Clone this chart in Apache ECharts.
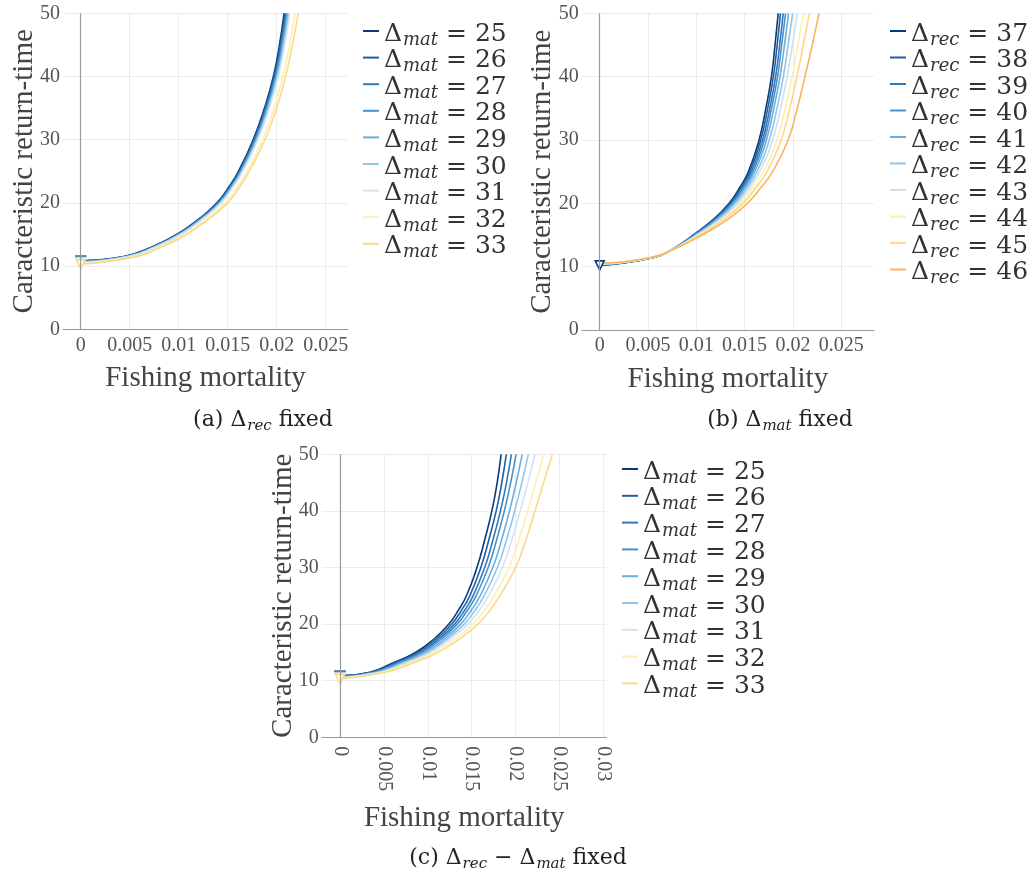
<!DOCTYPE html>
<html><head><meta charset="utf-8">
<script src="https://cdn.jsdelivr.net/npm/echarts@6/dist/echarts.min.js"></script>
<style>html,body{margin:0;padding:0;background:#fff}#c{width:1036px;height:878px}</style>
</head><body><div id="c"></div>
<script>
// Shared y-levels (return-time) at which each curve's fishing mortality was read
const LEVELS = [11.5, 13, 15, 17.5, 20, 22.5, 25, 30, 35, 40, 45, 50];
const X_TICKS_AB = [0, 0.005, 0.01, 0.015, 0.02, 0.025];
const X_TICKS_C = [0, 0.005, 0.01, 0.015, 0.02, 0.025, 0.03];

// Panel (a): Δrec fixed, Δmat varies
const A_LABELS = [25, 26, 27, 28, 29, 30, 31, 32, 33];
const A_START = [10.85, 10.8, 10.75, 10.7, 10.65, 10.6, 10.55, 10.4, 10.3];
const A_F = [
  [0.0044, 0.0072, 0.0098, 0.0121, 0.0139, 0.0151, 0.0161, 0.0176, 0.01875, 0.01966, 0.02028, 0.02075],
  [0.00448, 0.00727, 0.00987, 0.01217, 0.01397, 0.01517, 0.01617, 0.01768, 0.01883, 0.01974, 0.02037, 0.02084],
  [0.00457, 0.00733, 0.00993, 0.01223, 0.01404, 0.01524, 0.01624, 0.01776, 0.01891, 0.01982, 0.02045, 0.02094],
  [0.00465, 0.0074, 0.01, 0.0123, 0.01412, 0.01532, 0.01632, 0.01783, 0.01899, 0.0199, 0.02054, 0.02103],
  [0.00474, 0.00746, 0.01006, 0.01236, 0.01419, 0.01539, 0.01639, 0.01791, 0.01908, 0.01998, 0.02062, 0.02113],
  [0.00483, 0.00753, 0.01013, 0.01243, 0.01426, 0.01546, 0.01646, 0.018, 0.01916, 0.02007, 0.02072, 0.02123],
  [0.00492, 0.0076, 0.0102, 0.0125, 0.01434, 0.01554, 0.01654, 0.01808, 0.01925, 0.02016, 0.02081, 0.02133],
  [0.00541, 0.00798, 0.01058, 0.01288, 0.01476, 0.01596, 0.01696, 0.01854, 0.01973, 0.02063, 0.02131, 0.02188],
  [0.0057, 0.0082, 0.0108, 0.0131, 0.0150, 0.0162, 0.0172, 0.0188, 0.0200, 0.0209, 0.0216, 0.0222]
];

// Panel (b): Δmat fixed, Δrec varies
const B_LABELS = [37, 38, 39, 40, 41, 42, 43, 44, 45, 46];
const B_START = [10.2, 10.23, 10.27, 10.3, 10.33, 10.37, 10.4, 10.43, 10.47, 10.5];
const B_F = [
  [0.0057, 0.0078, 0.0097, 0.0118, 0.0134, 0.0145, 0.0154, 0.0165, 0.0172, 0.01778, 0.01815, 0.01848],
  [0.00568, 0.00781, 0.00975, 0.01189, 0.01351, 0.01463, 0.01554, 0.01667, 0.01739, 0.01798, 0.01837, 0.01872],
  [0.00566, 0.00782, 0.00981, 0.01199, 0.01364, 0.01477, 0.01571, 0.01687, 0.0176, 0.01821, 0.01863, 0.019],
  [0.00565, 0.00784, 0.00986, 0.01207, 0.01374, 0.0149, 0.01585, 0.01704, 0.01779, 0.01841, 0.01884, 0.01924],
  [0.00562, 0.00785, 0.00993, 0.01218, 0.01388, 0.01506, 0.01604, 0.01726, 0.01803, 0.01866, 0.01913, 0.01955],
  [0.00559, 0.00787, 0.01002, 0.01233, 0.01407, 0.01528, 0.01629, 0.01756, 0.01835, 0.01901, 0.01951, 0.01997],
  [0.00556, 0.00789, 0.01012, 0.0125, 0.01429, 0.01553, 0.01657, 0.0179, 0.01872, 0.0194, 0.01995, 0.02045],
  [0.00552, 0.00792, 0.01025, 0.01272, 0.01457, 0.01585, 0.01694, 0.01835, 0.0192, 0.01991, 0.02052, 0.02108],
  [0.00547, 0.00795, 0.01039, 0.01294, 0.01485, 0.01618, 0.01731, 0.01879, 0.01968, 0.02042, 0.02108, 0.0217],
  [0.0054, 0.0080, 0.0106, 0.0133, 0.0153, 0.0167, 0.0179, 0.0195, 0.02045, 0.02125, 0.0220, 0.0227]
];

// Panel (c): Δrec − Δmat fixed
const C_LABELS = [25, 26, 27, 28, 29, 30, 31, 32, 33];
const C_START = [10.85, 10.8, 10.75, 10.7, 10.6, 10.55, 10.5, 10.4, 10.3];
const C_F = [
  [0.0034, 0.0058, 0.0086, 0.0108, 0.0124, 0.0135, 0.0144, 0.0156, 0.0165, 0.0173, 0.0179, 0.01835],
  [0.00358, 0.00603, 0.00886, 0.01109, 0.01273, 0.01386, 0.01478, 0.01604, 0.01697, 0.01779, 0.01843, 0.01894],
  [0.00376, 0.00626, 0.00912, 0.01138, 0.01306, 0.01422, 0.01516, 0.01648, 0.01744, 0.01828, 0.01896, 0.01952],
  [0.00392, 0.00647, 0.00935, 0.01164, 0.01336, 0.01454, 0.0155, 0.01688, 0.01786, 0.01872, 0.01944, 0.02005],
  [0.00414, 0.00674, 0.00967, 0.01199, 0.01375, 0.01498, 0.01596, 0.0174, 0.01843, 0.01931, 0.02007, 0.02075],
  [0.00435, 0.00702, 0.00998, 0.01234, 0.01415, 0.01541, 0.01641, 0.01793, 0.01899, 0.0199, 0.02071, 0.02145],
  [0.00459, 0.00732, 0.01032, 0.01271, 0.01458, 0.01588, 0.01691, 0.0185, 0.0196, 0.02053, 0.0214, 0.02221],
  [0.00489, 0.00771, 0.01076, 0.01321, 0.01514, 0.01649, 0.01755, 0.01925, 0.0204, 0.02137, 0.0223, 0.02321],
  [0.0052, 0.0081, 0.0112, 0.0137, 0.0157, 0.0171, 0.0182, 0.0200, 0.0212, 0.0222, 0.0232, 0.0242]
];

const COLORS_9 = ['#0b3a78', '#1f5fa3', '#2f78bb', '#4b91c9', '#6aaedd', '#93c5e6', '#d2e3f2', '#fdefb2', '#fdd888'];
const COLORS_10 = ['#0b3a78', '#1f5fa3', '#2f78bb', '#4b91c9', '#6aaedd', '#93c5e6', '#cde0f1', '#fdefb2', '#fdd888', '#fbb45c'];

const SERIF = 'Liberation Serif';
const MATH = 'DejaVu Serif';

function makeSeries(prefix, labels, starts, Fs, colors, gi, markAll) {
  return labels.map((lab, i) => {
    const s = {
      name: prefix + lab,
      type: 'line',
      xAxisIndex: gi, yAxisIndex: gi,
      smooth: 0.5,
      symbol: 'triangle', symbolSize: 0, showSymbol: true, showAllSymbol: true,
      lineStyle: {color: colors[i], width: 1.6},
      itemStyle: {color: colors[i]},
      emphasis: {disabled: true},
      silent: true,
      animation: false,
      clip: true,
      data: [{value: [0, starts[i]], symbolSize: (markAll || i === 0) ? 9 : 0, symbolRotate: 180,
              itemStyle: {color: '#fff', borderColor: colors[i], borderWidth: 1.6}}]
        .concat(LEVELS.map((y, j) => [Fs[i][j], y]))
    };
    if (i === 0) {
      s.markLine = {silent: true, symbol: 'none', animation: false, label: {show: false},
        lineStyle: {color: '#9a9a9a', width: 1.2, type: 'solid'}, data: [{xAxis: 0}]};
    }
    return s;
  });
}

function fmt(v) { return v === 0 ? '0' : String(parseFloat(Number(v).toFixed(4))); }

function xAxis(gi, min, max, ticks, rotate, nameGap) {
  return {
    type: 'value', gridIndex: gi, min: min, max: max,
    name: 'Fishing mortality', nameLocation: 'middle', nameGap: nameGap, nameMoveOverlap: false,
    nameTextStyle: {fontFamily: SERIF, fontSize: 29, color: '#444'},
    axisLine: {show: true, onZero: false, lineStyle: {color: '#999', width: 1}},
    axisTick: {show: false, customValues: ticks},
    axisLabel: {customValues: ticks, formatter: fmt, fontFamily: SERIF, fontSize: 20, color: '#555',
      margin: rotate ? 9 : 6, rotate: rotate, hideOverlap: false},
    splitLine: {show: true, lineStyle: {color: '#ececec', width: 1}}
  };
}
function yAxis(gi, nameGap) {
  return {
    type: 'value', gridIndex: gi, min: 0, max: 50, interval: 10,
    name: 'Caracteristic return-time', nameLocation: 'middle', nameGap: nameGap, nameMoveOverlap: false,
    nameTextStyle: {fontFamily: SERIF, fontSize: 29, color: '#444'},
    axisLine: {show: false}, axisTick: {show: false},
    axisLabel: {fontFamily: SERIF, fontSize: 20, color: '#555', margin: 3},
    splitLine: {show: true, lineStyle: {color: '#ececec', width: 1}}
  };
}

const RICH = {
  d: {fontFamily: MATH, fontSize: 25, color: '#333', lineHeight: 20, padding: [6, 0, 0, 0]},
  s: {fontFamily: MATH, fontStyle: 'italic', fontSize: 18, color: '#333', lineHeight: 8, padding: [18, 0, 0, 1]},
  e: {fontFamily: MATH, fontSize: 25, color: '#333', lineHeight: 20, padding: [6, 0, 0, 0]}
};
function legend(prefix, labels, sub, left, top, gap) {
  return {
    data: labels.map(l => prefix + l), orient: 'vertical', left: left, top: top, padding: 0,
    icon: 'rect', itemWidth: 16, itemHeight: 2, itemGap: gap, selectedMode: false,
    formatter: n => '{d|Δ}{s|' + sub + '}{e| = ' + n.slice(1) + '}',
    textStyle: {rich: RICH}
  };
}

const CAP_RICH = {
  n: {fontFamily: MATH, fontSize: 22, color: '#222', lineHeight: 24},
  s: {fontFamily: MATH, fontStyle: 'italic', fontSize: 15, color: '#222', lineHeight: 10, padding: [12, 0, 0, 1]}
};
function caption(x, y, text) {
  return {type: 'text', x: x, y: y, silent: true,
    style: {text: text, rich: CAP_RICH, align: 'center', verticalAlign: 'middle', fill: '#222'}};
}

const option = {
  animation: false,
  backgroundColor: '#fff',
  grid: [
    {left: 63, top: 13.3, width: 285, height: 316},
    {left: 581.7, top: 13.3, width: 292.3, height: 316.7},
    {left: 321.7, top: 454.3, width: 285, height: 283}
  ],
  xAxis: [
    xAxis(0, -0.001806, 0.027276, X_TICKS_AB, 0, 35),
    xAxis(1, -0.001863, 0.028396, X_TICKS_AB, 0, 35),
    xAxis(2, -0.002084, 0.030377, X_TICKS_C, -90, 67)
  ],
  yAxis: [yAxis(0, 24), yAxis(1, 25), yAxis(2, 24)],
  legend: [
    legend('a', A_LABELS, 'mat', 363, 13, -9.4),
    legend('b', B_LABELS, 'rec', 890, 13, -9.5),
    legend('c', C_LABELS, 'mat', 622, 451, -9.2)
  ],
  graphic: [
    caption(263, 420, '{n|(a) Δ}{s|rec}{n| fixed}'),
    caption(780, 420, '{n|(b) Δ}{s|mat}{n| fixed}'),
    caption(518, 858, '{n|(c) Δ}{s|rec}{n| − Δ}{s|mat}{n| fixed}')
  ],
  series: [].concat(
    makeSeries('a', A_LABELS, A_START, A_F, COLORS_9, 0, true),
    makeSeries('b', B_LABELS, B_START, B_F, COLORS_10, 1, false),
    makeSeries('c', C_LABELS, C_START, C_F, COLORS_9, 2, true)
  )
};

const chart = echarts.init(document.getElementById('c'), null, {renderer: 'canvas'});
chart.setOption(option);
</script>
</body></html>
